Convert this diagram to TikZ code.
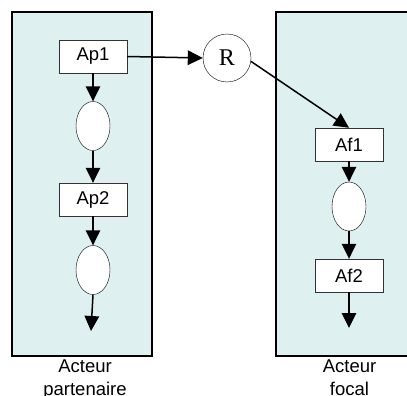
\documentclass[tikz,border=0pt]{standalone}
\usepackage{fontspec}
\setmainfont{Liberation Sans}
\newfontfamily\serifR{Liberation Serif}
\usepackage{xcolor}
\usetikzlibrary{arrows.meta,positioning,shapes.geometric}
\definecolor{panelfill}{RGB}{222,240,240}

\begin{document}
\begin{tikzpicture}[x=1pt, y=-1pt,
            >={Triangle[length=15pt,width=14.5pt]},
            acteur/.style={draw, line width=1.4pt, fill=panelfill},
            box/.style={draw=black!80, fill=white, rectangle, minimum width=68pt, minimum height=33pt,
                 inner sep=0pt, font=\fontsize{18.5}{21}\selectfont},
            etat/.style={draw, fill=white, ellipse, minimum width=34pt, minimum height=49pt, inner sep=0pt},
            relation/.style={draw, circle, minimum size=48pt, inner sep=0pt, font=\serifR\fontsize{24}{24}\selectfont},
            fleche/.style={->, line width=1.5pt},
            legende/.style={align=center, anchor=north, inner sep=0pt, font=\fontsize{18.5}{22.5}\selectfont}
            ]

            \clip (0,0) rectangle (407,396);
            \useasboundingbox (0,0) rectangle (407,396);

            % The two actors
            \draw[acteur] (12,12) rectangle (152,356);
            \draw[acteur] (276,12) rectangle (420,356);

            % Nodes with manual coordinates
            \node[box] (ap1) at (93,56.5) {Ap1};
            \node[etat] (ep1) at (93,126) {};
            \node[box] (ap2) at (93,199.5) {Ap2};
            \node[etat] (ep2) at (93,270) {};
            \coordinate (sortiep) at (91,331);

            \node[relation] (R) at (227,58) {R};

            \node[box] (af1) at (349,144.5) {Af1};
            \node[etat] (ef1) at (349,206.5) {};
            \node[box] (af2) at (349,275.5) {Af2};
            \coordinate (sortief) at (349,328);

            \node[legende] (lp) at (85,360) {Acteur\\partenaire};
            \node[legende] (lf) at (349.5,360) {Acteur\\focal};

            % Arrows
            \draw[fleche] (ap1) -- (ep1);
            \draw[fleche] (ep1) -- (ap2);
            \draw[fleche] (ap2) -- (ep2);
            \draw[fleche] (ep2.south) -- (sortiep);
            \draw[fleche] (ap1.east) -- (R.west);
            \draw[fleche] (R.-8) -- (af1.north);
            \draw[fleche] (af1) -- (ef1);
            \draw[fleche] (ef1) -- (af2);
            \draw[fleche] (af2.south) -- (sortief);
        \end{tikzpicture}
\end{document}
